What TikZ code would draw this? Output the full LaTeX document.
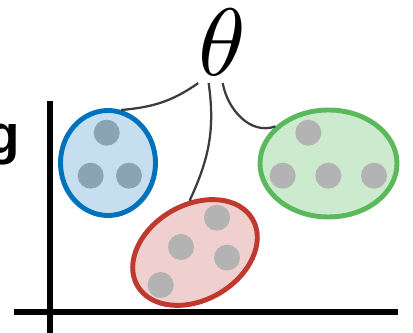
\documentclass[tikz,border=0pt]{standalone}
\usepackage{fontspec}
\usepackage{tikz}
\usetikzlibrary{shapes.geometric}
\newfontfamily\gfont{Liberation Sans}
\definecolor{blueclr}{HTML}{0072BC}
\definecolor{bluebg}{HTML}{C5DFF0}
\definecolor{bluedot}{HTML}{8AA3B5}
\definecolor{redclr}{HTML}{C0392F}
\definecolor{redbg}{HTML}{F0CFCF}
\definecolor{greenclr}{HTML}{5CB85C}
\definecolor{greenbg}{HTML}{CCEACE}
\definecolor{dotclr}{HTML}{B3B3B3}
\definecolor{linkclr}{HTML}{3C3C3C}

\begin{document}
\begin{tikzpicture}[
  cluster/.style={ellipse, draw, line width=3.5pt, inner sep=0pt},
  axis/.style={line width=3.6pt},
  link/.style={draw=linkclr, line width=1.6pt}]
  \useasboundingbox (0,0) rectangle (10.325,-8.325);
  % axes
  \draw[axis] (1.25,-2.525) -- (1.25,-8.5);
  \draw[axis] (0.35,-7.8) -- (9.95,-7.8);
  \node[anchor=base east, inner sep=0pt,
        font=\gfont\bfseries\fontsize{39}{45}\selectfont] (glabel) at (0.515,-3.83) {g};
  % parameter
  \node[inner sep=0.625pt, scale=6.8] (theta) at (5.55,-1.05) {$\theta$};
  % clusters
  \node[cluster, draw=blueclr, fill=bluebg, minimum width=2.375cm, minimum height=2.625cm]
    (blue) at (2.7,-4.075) {};
  \node[cluster, draw=greenclr, fill=greenbg, minimum width=3.425cm, minimum height=2.675cm]
    (green) at (8.2125,-4.0875) {};
  \node[cluster, draw=redclr, fill=redbg, minimum width=3.325cm, minimum height=2.375cm, rotate=30]
    (red) at (4.875,-6.3125) {};
  \foreach \p in {(2.667,-3.317),(2.267,-4.392),(3.225,-4.392)}
    \fill[bluedot] \p circle (0.325);
  \foreach \p in {(7.708,-3.317),(7.067,-4.392),(8.208,-4.392),(9.35,-4.392),
                  (5.425,-5.442),(4.525,-6.175),(5.675,-6.442),(4.017,-7.125)}
    \fill[dotclr] \p circle (0.325);
  % links
  \draw[link] (theta.-120) to[out=-145,in=5] (blue.76);
  \draw[link] (theta.-108) to[out=-82,in=65] (red.66);
  \draw[link] (theta.-89) to[out=-80,in=-160] (green.145);
\end{tikzpicture}
\end{document}
